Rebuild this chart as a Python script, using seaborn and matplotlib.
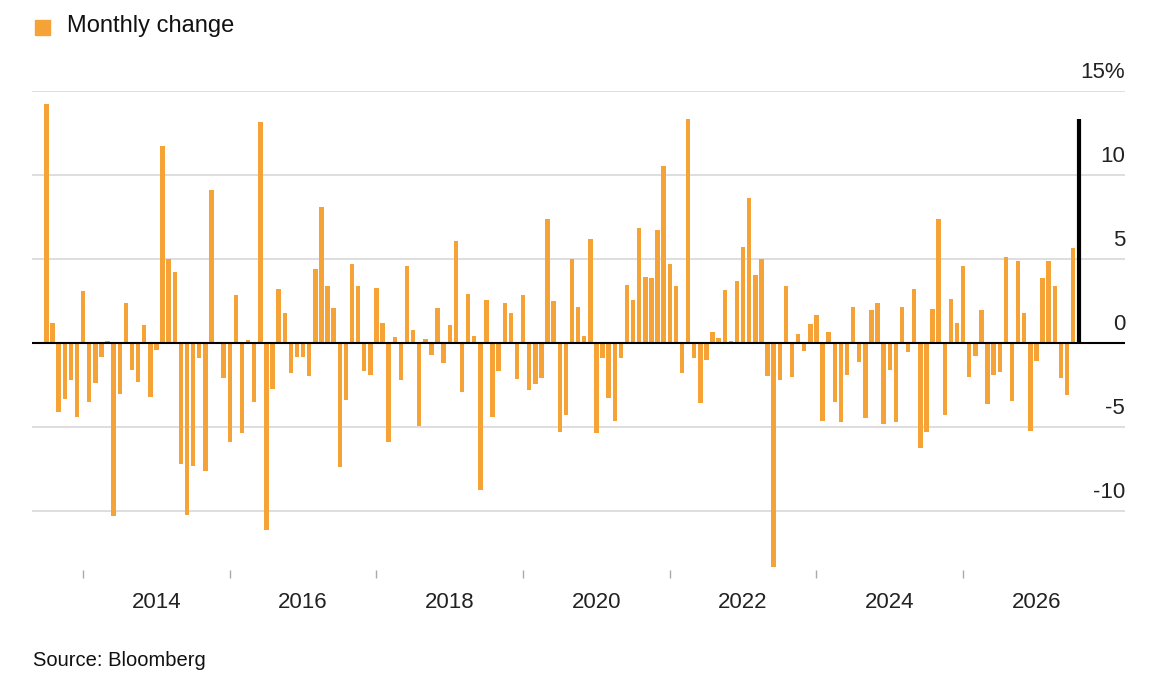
import numpy as np
import pandas as pd
import matplotlib
matplotlib.use("Agg")
import matplotlib.pyplot as plt
import matplotlib.transforms as mtransforms
import seaborn as sns

# monthly change, Jul 2012 .. Jul 2026
values = [14.25, 1.2, -4.1, -3.3, -2.2, -4.4, 3.1, -3.5, -2.4, -0.8, 0.1, -10.3,
          -3.0, 2.4, -1.6, -2.3, 1.1, -3.2, -0.4, 11.7, 5.0, 4.2, -7.2, -10.2,
          -7.3, -0.9, -7.6, 9.1, 0.0, -2.05, -5.86, 2.85, -5.37, 0.18, -3.5, 13.15,
          -11.1, -2.75, 3.2, 1.76, -1.8, -0.85, -0.85, -1.98, 4.4, 8.1, 3.4, 2.07,
          -7.4, -3.4, 4.7, 3.4, -1.68, -1.88, 3.3, 1.19, -5.86, 0.34, -2.2, 4.57,
          0.79, -4.91, 0.24, -0.69, 2.1, -1.19, 1.09, 6.06, -2.93, 2.91, 0.44, -8.77,
          2.55, -4.4, -1.64, 2.36, 1.8, -2.16, 2.85, -2.81, -2.42, -2.1, 7.37, 2.5,
          -5.31, -4.28, 4.99, 2.12, 0.44, 6.2, -5.35, -0.91, -3.29, -4.65, -0.91, 3.47,
          2.57, 6.85, 3.96, 3.86, 6.75, 10.53, 4.69, 3.39, -1.78, 13.35, -0.91, -3.56,
          -0.99, 0.65, 0.3, 3.15, 0.14, 3.7, 5.72, 8.65, 4.04, 4.99, -1.98, -13.33,
          -2.2, 3.41, -2.04, 0.53, -0.46, 1.13, 1.66, -4.63, 0.63, -3.52, -4.67, -1.88,
          2.12, -1.11, -4.48, 1.98, 2.36, -4.81, -1.58, -4.67, 2.12, -0.55, 3.21, -6.26,
          -5.27, 2.04, 7.37, -4.28, 2.61, 1.19, 4.56, -2.0, -0.75, 1.96, -3.62, -1.88,
          -1.74, 5.13, -3.43, 4.87, 1.76, -5.25, -1.05, 3.9, 4.87, 3.41, -2.1, -3.09,
          5.68]
months = pd.date_range("2012-07-01", periods=len(values), freq="MS")
marker_value = 13.35
y_ticks = [15, 10, 5, 0, -5, -10]
y_labels = ["15%", "10", "5", "0", "-5", "-10"]
year_labels = [2014, 2016, 2018, 2020, 2022, 2024, 2026]

df = pd.DataFrame({"t": months.year + (months.month - 1) / 12, "v": values})
orange = "#F5A236"
plt.rcParams["font.family"] = ["Liberation Sans", "DejaVu Sans"]

fig = plt.figure(figsize=(11.6, 6.84), dpi=100)
ax = fig.add_axes([0.028, 0.1667, 0.942, 0.7003])
sns.barplot(data=df, x="t", y="v", native_scale=True, color=orange,
            saturation=1, width=0.72, ax=ax, zorder=3)
ax.vlines(df["t"].iloc[-1] + 1 / 12, 0, marker_value, color="black", lw=3, zorder=4)

ax.set_xlim(2012.31, 2027.21)
ax.set_ylim(-13.5, 15)
for y in y_ticks:
    if y == 0:
        ax.axhline(0, color="black", lw=1.5, zorder=5)
    else:
        ax.axhline(y, color="#d4d4d4", lw=1.1, zorder=1)
trans = mtransforms.blended_transform_factory(ax.transAxes, ax.transData)
for y, lab in zip(y_ticks, y_labels):
    ax.text(1.0, y + 1.1, lab, transform=trans, ha="right", va="center",
            fontsize=16, color="#222222")

ax.set_yticks([])
ax.set_xticks([y + 0.0 for y in range(2013, 2027, 2)])
ax.set_xticklabels([])
ax.tick_params(axis="x", length=6, color="#aaaaaa", width=1)
xtrans = mtransforms.blended_transform_factory(ax.transData, ax.transAxes)
for yr in year_labels:
    ax.text(yr, -0.045, str(yr), transform=xtrans,
            ha="center", va="top", fontsize=16, color="#222222")
ax.set_xlabel("")
ax.set_ylabel("")
for s in ["top", "right", "left", "bottom"]:
    ax.spines[s].set_visible(False)

fig.patches.append(plt.Rectangle((35 / 1160, 1 - 35 / 684), 15 / 1160, 15 / 684,
                                 transform=fig.transFigure, color=orange))
fig.text(67 / 1160, 1 - 26 / 684, "Monthly change", fontsize=17, va="center", color="#111111")
fig.text(33 / 1160, 1 - 661 / 684, "Source: Bloomberg", fontsize=14.5, va="center", color="#111111")

fig.savefig("out.png", dpi=100)
